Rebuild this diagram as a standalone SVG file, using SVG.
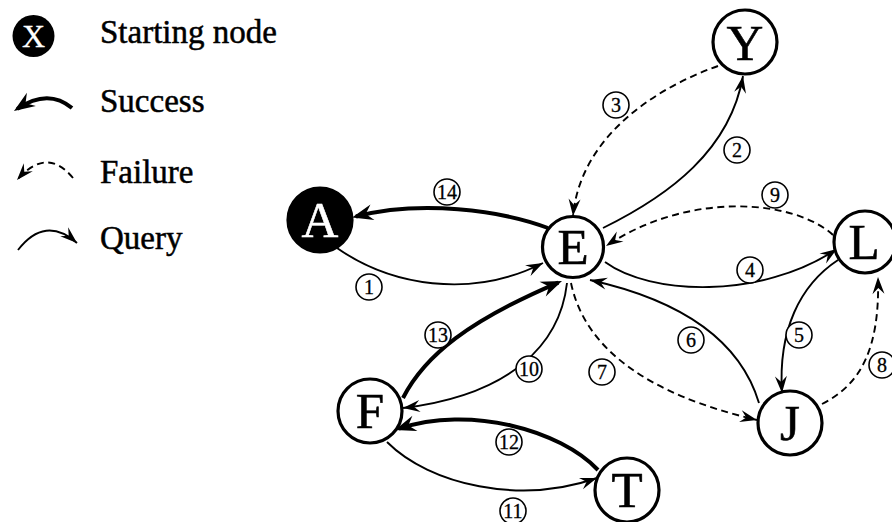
<svg xmlns="http://www.w3.org/2000/svg" width="892" height="522" viewBox="0 0 892 522">
  <defs>
    <style>
      .node circle { fill: #fff; stroke: #000; stroke-width: 3.2; }
      .node text { font-family: "Liberation Serif", "Times New Roman", serif; font-size: 51px; text-anchor: middle; fill: #000; stroke: #000; stroke-width: 0.6; }
      .start circle { fill: #000; }
      .start text { fill: #fff; stroke: #fff; }
      .edge { fill: none; stroke: #000; stroke-width: 1.9; }
      .success { stroke-width: 4; marker-end: url(#headThick); }
      .query { marker-end: url(#headThin); }
      .failure { stroke-dasharray: 7 4.5; marker-end: url(#headThin); }
      .tag circle { fill: #fff; stroke: #000; stroke-width: 1.6; }
      .tag text { font-family: "Liberation Serif", "Times New Roman", serif; font-size: 20px; text-anchor: middle; fill: #000; stroke: #000; stroke-width: 0.3; }
      .legend text { font-family: "Liberation Serif", "Times New Roman", serif; font-size: 33px; fill: #000; stroke: #000; stroke-width: 0.5; }
      .legend .badge { fill: #fff; stroke: #fff; stroke-width: 0.3; font-size: 32px; text-anchor: middle; }
    </style>
    <marker id="headThin" markerUnits="userSpaceOnUse" orient="auto" overflow="visible" refX="0" refY="0" markerWidth="20" markerHeight="14" viewBox="-18 -7 20 14">
      <path d="M0,0 L-17,-6 L-11,0 L-17,6 Z" fill="#000" stroke="none"/>
    </marker>
    <marker id="headThick" markerUnits="userSpaceOnUse" orient="auto" overflow="visible" refX="0" refY="0" markerWidth="26" markerHeight="18" viewBox="-20 -9 26 18">
      <path d="M4,0 L-17,-8 L-10,0 L-17,8 Z" fill="#000" stroke="none"/>
    </marker>
  </defs>

  <!-- legend -->
  <g id="legend" class="legend">
    <g id="legend-start">
      <circle cx="33.5" cy="36" r="21" fill="#000"/>
      <text class="badge" x="33.5" y="47">X</text>
      <text x="100" y="43">Starting node</text>
    </g>
    <g id="legend-success">
      <path class="edge success" d="M72,108 Q48,88 17.3,108.8"/>
      <text x="100" y="112">Success</text>
    </g>
    <g id="legend-failure">
      <path class="edge failure" d="M73,178 Q47,146 17,180"/>
      <text x="100" y="183">Failure</text>
    </g>
    <g id="legend-query">
      <path class="edge query" d="M18,250 Q45,215 77,243"/>
      <text x="100" y="249">Query</text>
    </g>
  </g>

  <!-- connectors -->
  <g id="connectors">
    <path id="e1" class="edge query" d="M337,248 C390,285 470,300 543,263"/>
    <path id="e2" class="edge query" d="M603,228 C670,195 730,150 743,76"/>
    <path id="e3" class="edge failure" d="M718,66 C650,90 580,140 573,216"/>
    <path id="e4" class="edge query" d="M605,262 C650,295 760,300 837,249"/>
    <path id="e5" class="edge query" d="M838,260 C800,285 778,330 782,393"/>
    <path id="e6" class="edge query" d="M759,403 C740,340 680,300 590,280"/>
    <path id="e7" class="edge failure" d="M571,283 C585,350 650,395 757,420"/>
    <path id="e8" class="edge failure" d="M822,404 C860,385 880,350 878,277"/>
    <path id="e9" class="edge failure" d="M833,235 C795,200 690,190 606,246"/>
    <path id="e10" class="edge query" d="M567,283 C560,345 510,395 403,408"/>
    <path id="e11" class="edge query" d="M387,442 C430,485 520,505 597,478"/>
    <path id="e12" class="edge success" d="M598,470 C560,430 470,405 398.8,428.7"/>
    <path id="e13" class="edge success" d="M403,398 C425,355 470,320 558.3,282.6"/>
    <path id="e14" class="edge success" d="M548,228 C500,210 420,200 356,216.5"/>
  </g>

  <!-- step numbers -->
  <g id="steps" class="tag">
    <g id="s1"><circle cx="369" cy="287" r="13"/><text x="369" y="294">1</text></g>
    <g id="s2"><circle cx="737" cy="150" r="13"/><text x="737" y="157">2</text></g>
    <g id="s3"><circle cx="616" cy="105" r="13"/><text x="616" y="112">3</text></g>
    <g id="s4"><circle cx="750" cy="270" r="13"/><text x="750" y="277">4</text></g>
    <g id="s5"><circle cx="799" cy="335" r="13"/><text x="799" y="342">5</text></g>
    <g id="s6"><circle cx="691" cy="340" r="13"/><text x="691" y="347">6</text></g>
    <g id="s7"><circle cx="602" cy="372" r="13"/><text x="602" y="379">7</text></g>
    <g id="s8"><circle cx="882" cy="365" r="13"/><text x="882" y="372">8</text></g>
    <g id="s9"><circle cx="775" cy="195" r="13"/><text x="775" y="202">9</text></g>
    <g id="s10"><circle cx="529" cy="369" r="13"/><text x="529" y="376">10</text></g>
    <g id="s11"><circle cx="513" cy="511" r="13"/><text x="513" y="518">11</text></g>
    <g id="s12"><circle cx="509" cy="442" r="13"/><text x="509" y="449">12</text></g>
    <g id="s13"><circle cx="438" cy="335" r="13"/><text x="438" y="342">13</text></g>
    <g id="s14"><circle cx="447" cy="192" r="13"/><text x="447" y="199">14</text></g>
  </g>

  <!-- nodes -->
  <g id="node-A" class="node start"><circle cx="320" cy="220" r="32"/><text x="320" y="237">A</text></g>
  <g id="node-E" class="node"><circle cx="573" cy="247" r="30.5"/><text x="573" y="264">E</text></g>
  <g id="node-Y" class="node"><circle cx="745" cy="42" r="32"/><text x="745" y="60">Y</text></g>
  <g id="node-L" class="node"><circle cx="865" cy="242" r="31"/><text x="864" y="259">L</text></g>
  <g id="node-J" class="node"><circle cx="790" cy="423" r="32"/><text x="790" y="440">J</text></g>
  <g id="node-F" class="node"><circle cx="370" cy="411" r="32"/><text x="370" y="428">F</text></g>
  <g id="node-T" class="node"><circle cx="627" cy="490" r="32"/><text x="627" y="507">T</text></g>
</svg>
